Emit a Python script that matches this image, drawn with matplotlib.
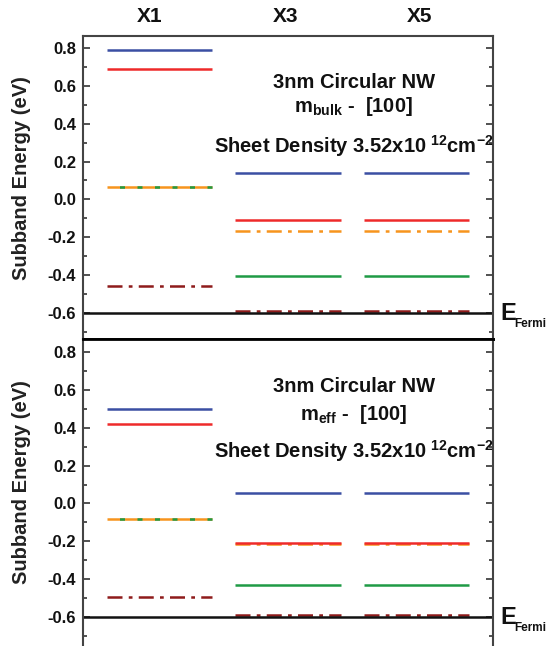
import matplotlib
matplotlib.use("Agg")
import matplotlib.pyplot as plt
import numpy as np

plt.rcParams['font.family'] = ['Liberation Sans', 'DejaVu Sans']
plt.rcParams['font.weight'] = 'bold'
plt.rcParams['mathtext.fontset'] = 'custom'
plt.rcParams['mathtext.bf'] = 'Liberation Sans:bold'
plt.rcParams['mathtext.rm'] = 'Liberation Sans:bold'
plt.rcParams['mathtext.default'] = 'bf'

groups = ['X1', 'X3', 'X5']
fermi = -0.6

top_blue = [0.79, 0.141, 0.141]
top_red = [0.689, -0.110, -0.110]
top_orange = [0.067, -0.165, -0.165]
top_green = [0.067, -0.403, -0.403]
top_darkred = [-0.457, -0.588, -0.588]

bot_blue = [0.499, 0.057, 0.057]
bot_red = [0.420, -0.209, -0.209]
bot_orange = [-0.082, -0.215, -0.215]
bot_green = [-0.082, -0.431, -0.431]
bot_darkred = [-0.496, -0.591, -0.591]

C_BLUE = '#3b4fa3'
C_RED = '#ee2a2a'
C_ORANGE = '#f7941d'
C_GREEN = '#1f9a45'
C_DARKRED = '#8e1b1b'

W, H = 547, 646
fig = plt.figure(figsize=(W / 100, H / 100), dpi=100)

ax_top = fig.add_axes([83 / W, 1 - 339 / H, 410 / W, 303 / H])
ax_bot = fig.add_axes([83 / W, 0.0, 410 / W, 307 / H])

xc = np.arange(1, len(groups) + 1)
hw = 0.41


def draw(ax, blue, red, orange, green, darkred, ylim, texts, ylab_y):
    ax.set_xlim(0.4, 3.6)
    ax.set_ylim(*ylim)
    for i, x in enumerate(xc):
        x0, x1 = x - hw, x + hw
        same = abs(orange[i] - green[i]) < 1e-6
        ax.hlines(blue[i], x0, x1, color=C_BLUE, lw=1.8)
        if same:
            ax.hlines(orange[i], x0, x1, color=C_ORANGE, lw=1.8)
            ax.hlines(green[i], x0, x1, color=C_GREEN, lw=1.8,
                      linestyles=[(2, (2, 5))])
        else:
            ax.hlines(green[i], x0, x1, color=C_GREEN, lw=1.8)
            ax.hlines(orange[i], x0, x1, color=C_ORANGE, lw=1.8,
                      linestyles=[(0, (6, 2.5, 1.5, 2.5))])
        ax.hlines(red[i], x0, x1, color=C_RED, lw=1.8)
        ax.hlines(darkred[i], x0, x1, color=C_DARKRED, lw=1.8,
                  linestyles=[(0, (6, 2.5, 1.5, 2.5))])
    ax.axhline(fermi, color='#111111', lw=1.8)
    ax.set_yticks(np.arange(-0.6, 0.81, 0.2))
    ax.set_yticklabels([f"{v:.1f}" for v in np.arange(-0.6, 0.81, 0.2)])
    ax.set_yticks(np.arange(-0.7, 0.86, 0.1), minor=True)
    ax.tick_params(axis='y', which='both', direction='in', left=True, right=True,
                   labelsize=12, colors='#333333', labelcolor='#111111', width=1.2,
                   pad=5)
    ax.tick_params(axis='y', which='major', length=5)
    ax.tick_params(axis='y', which='minor', length=3)
    ax.tick_params(axis='x', bottom=False, labelbottom=False)
    for s in ax.spines.values():
        s.set_color('#444444')
        s.set_linewidth(1.5)
    ax.set_ylabel('Subband Energy (eV)', fontsize=14.5, fontweight='bold',
                  color='#222222')
    ax.yaxis.set_label_coords((31 - 83) / 410, ylab_y)
    for (tx, ty, s) in texts:
        ax.text(tx, ty, s, transform=ax.transAxes, ha='center', va='center',
                fontsize=14.5, fontweight='bold', color='#111111')
    ax.text((500 - 83) / 410, fermi, 'E', transform=ax.get_yaxis_transform(),
            ha='left', va='center', fontsize=17, fontweight='bold', color='#111111')
    ax.annotate('Fermi', xy=((514 - 83) / 410, fermi), xycoords=ax.get_yaxis_transform(),
                xytext=(0, -8), textcoords='offset points',
                ha='left', va='center', fontsize=8.5, fontweight='bold', color='#111111')


draw(ax_top, top_blue, top_red, top_orange, top_green, top_darkred,
     (-0.737, 0.863),
     [(0.66, 1 - (83 - 36) / 303, '3nm Circular NW'),
      (0.66, 1 - (107 - 36) / 303, r'm$_{bulk}$ -  [100]'),
      (0.66, 1 - (146 - 36) / 303, r'Sheet Density 3.52x10$^{\ 12}$cm$^{-2}$')],
     0.53)
draw(ax_bot, bot_blue, bot_red, bot_orange, bot_green, bot_darkred,
     (-0.753, 0.869),
     [(0.66, 1 - (387 - 339) / 307, '3nm Circular NW'),
      (0.66, 1 - (415 - 339) / 307, r'm$_{eff}$ -  [100]'),
      (0.66, 1 - (451 - 339) / 307, r'Sheet Density 3.52x10$^{\ 12}$cm$^{-2}$')],
     0.534)

ax_top.spines['bottom'].set_color('black')
ax_top.spines['bottom'].set_linewidth(2)
ax_bot.spines['top'].set_color('black')
ax_bot.spines['top'].set_linewidth(2)
ax_bot.spines['bottom'].set_visible(False)

for name, xpos in zip(groups, [150, 286, 420]):
    ax_top.text((xpos - 83) / 410, 1.0 + 19 / 303, name, transform=ax_top.transAxes,
                ha='center', va='center', fontsize=15, fontweight='bold',
                color='#111111')

fig.savefig('out.png', dpi=100)
